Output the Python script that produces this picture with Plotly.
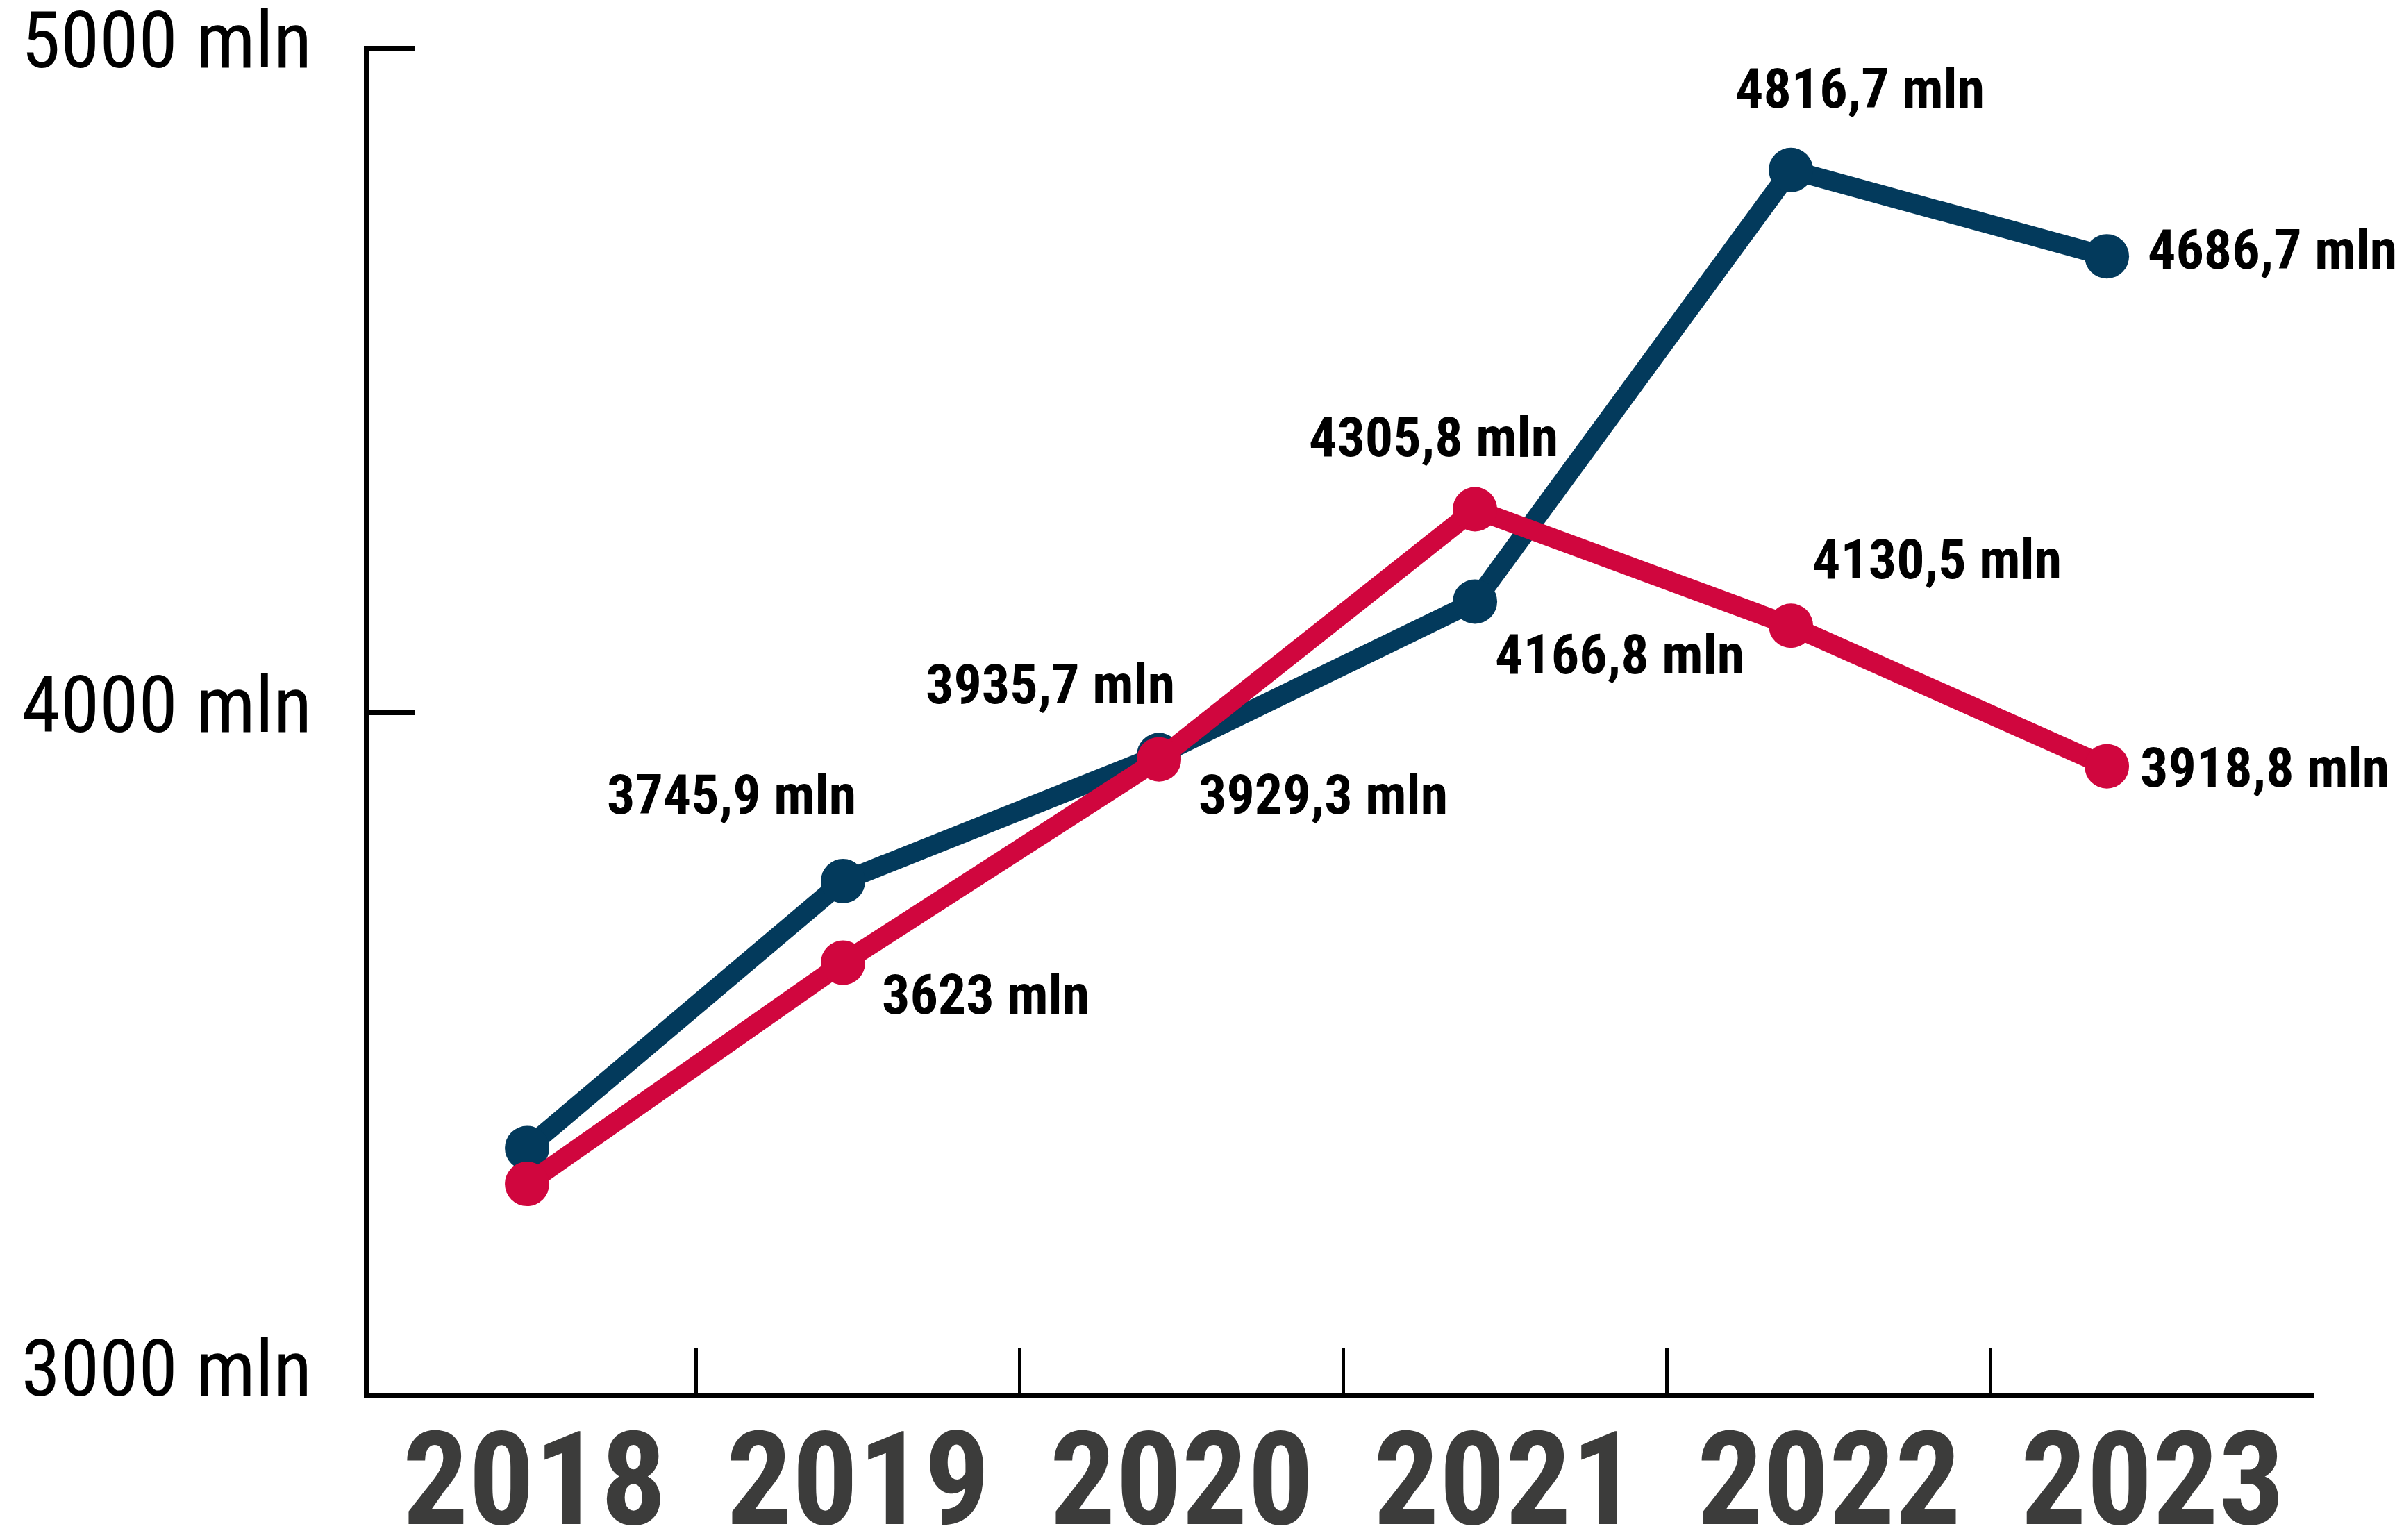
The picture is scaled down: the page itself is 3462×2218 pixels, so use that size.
import plotly.graph_objects as go

# ---- data ----
years = ["2018", "2019", "2020", "2021", "2022", "2023"]
series_a = [3344, 3745.9, 3935.7, 4166.8, 4816.7, 4686.7]   # navy line
series_b = [3290, 3623, 3929.3, 4305.8, 4130.5, 3918.8]     # red line
labels_a = ["", "3745,9 mln", "3935,7 mln", "4166,8 mln", "4816,7 mln", "4686,7 mln"]
labels_b = ["", "3623 mln", "3929,3 mln", "4305,8 mln", "4130,5 mln", "3918,8 mln"]
y_ticks = [3000, 4000, 5000]
y_ticktext = ["3000 mln", "4000 mln", "5000 mln"]

# ---- style ----
NAVY = "#033A5C"
RED = "#D0063E"
FONT = "Roboto Condensed, Open Sans Condensed, Roboto, sans-serif"
offs_a = [(0, 0), (-161, 124), (-157, 102), (208, -77), (99, 117), (238, 9)]
offs_b = [(0, 0), (205, -46), (236, -51), (-60, 104), (210, 95), (227, -2)]

W, H = 3462, 2218
L, R, T, B = 532, 129, 66, 212
YR = [2975.4, 5003.7]

fig = go.Figure()
fig.add_trace(go.Scatter(x=years, y=series_a, mode="lines+markers",
                         line=dict(color=NAVY, width=28),
                         marker=dict(color=NAVY, size=64), hoverinfo="skip",
                         showlegend=False))
fig.add_trace(go.Scatter(x=years, y=series_b, mode="lines+markers",
                         line=dict(color=RED, width=28),
                         marker=dict(color=RED, size=64), hoverinfo="skip",
                         showlegend=False))
fig.add_trace(go.Scatter(x=[], y=[], xaxis="x2", yaxis="y2", showlegend=False))

ann = []
for i, (lab, yv, (dx, dy)) in enumerate(zip(labels_a, series_a, offs_a)):
    if lab:
        ann.append(dict(x=i, y=yv, xref="x", yref="y", text=lab, showarrow=False,
                        xshift=dx, yshift=dy,
                        font=dict(family=FONT, size=80, color="#000000", weight="bold")))
for i, (lab, yv, (dx, dy)) in enumerate(zip(labels_b, series_b, offs_b)):
    if lab:
        ann.append(dict(x=i, y=yv, xref="x", yref="y", text=lab, showarrow=False,
                        xshift=dx, yshift=dy,
                        font=dict(family=FONT, size=80, color="#000000", weight="bold")))

n = len(years)
fig.update_layout(
    width=W, height=H,
    margin=dict(l=L, r=R, t=T, b=B, pad=0, autoexpand=False),
    paper_bgcolor="white", plot_bgcolor="white",
    annotations=ann,
    xaxis=dict(type="category", range=[-0.499, 5.657], showline=True, linecolor="black",
               linewidth=8, ticks="", showticklabels=False, showgrid=False,
               zeroline=False, fixedrange=True),
    yaxis=dict(range=YR, showline=True, linecolor="black", linewidth=8,
               tickvals=y_ticks, ticktext=y_ticktext, ticks="", automargin=False,
               tickfont=dict(family=FONT, size=114, color="#000000"),
               ticklabelstandoff=52, ticklabelshift=-12, ticklabeloverflow="allow",
               showgrid=False, zeroline=False, fixedrange=True),
    xaxis2=dict(overlaying="x", anchor="y", range=[-0.51, 5.5],
                tickvals=list(range(n)), ticktext=years, ticks="", tickangle=0,
                automargin=False, ticklabeloverflow="allow",
                tickfont=dict(family=FONT, size=188, color="#3C3C3B", weight="bold"),
                ticklabelstandoff=0,
                minor=dict(tickvals=[i + 0.5 for i in range(n - 1)], ticks="inside",
                           ticklen=65, tickwidth=5, tickcolor="black", showgrid=False),
                showline=False, showgrid=False, zeroline=False, fixedrange=True),
    yaxis2=dict(overlaying="y", anchor="x", side="left", range=YR,
                tickvals=[4000, 5000], ticks="inside", ticklen=65, tickwidth=8,
                tickcolor="black", showticklabels=False, showline=False, automargin=False,
                showgrid=False, zeroline=False, fixedrange=True),
)

fig.write_html("out.html", config={"displayModeBar": False},
               post_script="document.body.style.margin='0px';")
